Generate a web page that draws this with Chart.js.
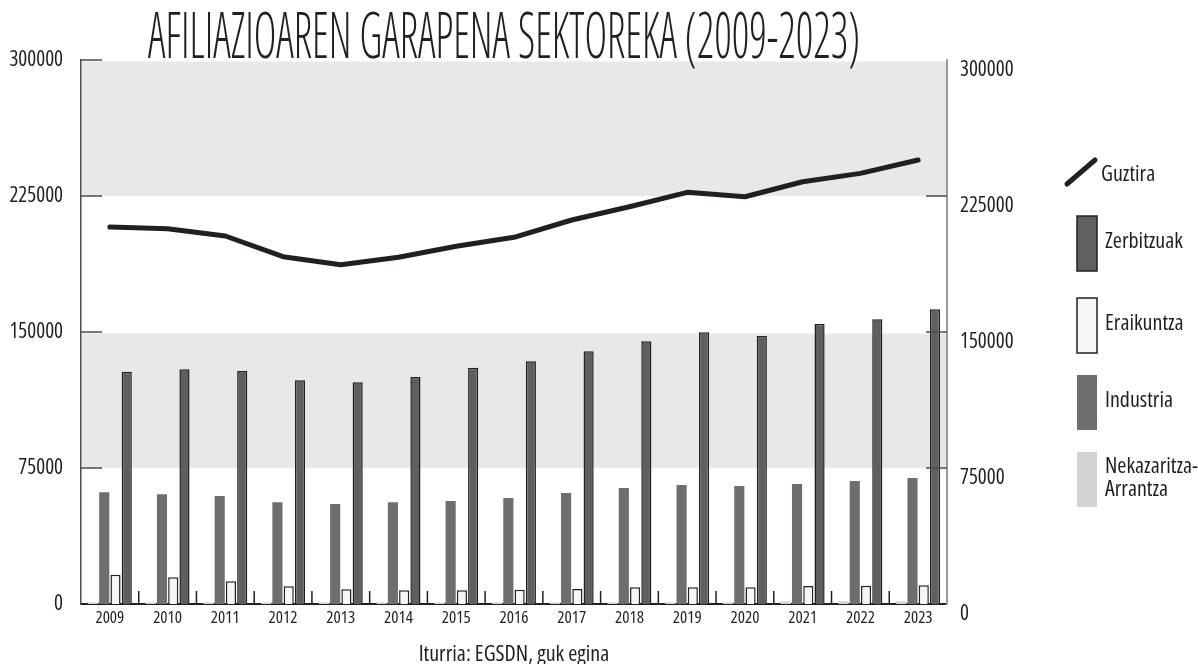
<!DOCTYPE html>
<html>
<head>
<meta charset="utf-8">
<script src="https://cdn.jsdelivr.net/npm/chart.js@4.4.1/dist/chart.umd.min.js"></script>
<style>
html, body { margin: 0; padding: 0; background: #fff; }
</style>
</head>
<body>
<canvas id="grafikoa" width="1198" height="664"></canvas>
<script>
// datuak
const urteak = ['2009', '2010', '2011', '2012', '2013', '2014', '2015', '2016', '2017', '2018', '2019', '2020', '2021', '2022', '2023']
const guztira = [207900, 206970, 202940, 191530, 187110, 191180, 197300, 202220, 211760, 219100, 227040, 224610, 232880, 237480, 244850]
const zerbitzuak = [128110, 129400, 128490, 123350, 122250, 125180, 130330, 133840, 139350, 144870, 149830, 147790, 154410, 157000, 162520]
const eraikuntza = [16160, 14710, 12500, 9740, 8090, 7540, 7540, 7900, 8270, 9190, 9190, 9190, 9930, 10110, 10290]
const industria = [61600, 60490, 59560, 56070, 55150, 56070, 56800, 58460, 61210, 63970, 65630, 65070, 66180, 67830, 69490]
const nekazaritza = [900, 900, 900, 900, 900, 900, 900, 900, 900, 900, 900, 900, 1500, 1500, 1500]

const yMax = 300000
const yPausoa = 75000

const izenburua = 'AFILIAZIOAREN GARAPENA SEKTOREKA (2009-2023)'
const iturria = 'Iturria: EGSDN, guk egina'

// Open Sans estu (condensed) bertsioa
const letra = '"Open Sans", "Liberation Sans", sans-serif'
const estua = 'condensed'
const beltza = '#231f20'

/* atzeko banda grisak */
const bandak = {
    id: 'bandak',
    beforeDatasetsDraw(chart) {
        const ctx = chart.ctx, a = chart.chartArea, y = chart.scales.y
        ctx.save()
        ctx.fillStyle = '#e8e8e8'
        ;[[75000, 150000], [225000, 300000]].forEach(([be, go]) => {
            const t = y.getPixelForValue(go), b = y.getPixelForValue(be)
            ctx.fillRect(a.left + 1, t + 1.5, a.right - a.left - 2, b - t - 1.5)
        })
        ctx.restore()
    }
}

/* barruko marrak eta urteen arteko bereizleak */
const marrak = {
    id: 'marrak',
    afterDatasetsDraw(chart) {
        const ctx = chart.ctx, a = chart.chartArea, y = chart.scales.y, x = chart.scales.x
        const lerroa = (x1, y1, x2, y2) => { ctx.beginPath(); ctx.moveTo(x1, y1); ctx.lineTo(x2, y2); ctx.stroke() }
        ctx.save()
        ctx.strokeStyle = '#4d4d4f'
        ctx.lineWidth = 1.5
        y.ticks.forEach(t => {
            if (t.value <= 0) return
            const py = y.getPixelForValue(t.value)
            lerroa(a.left, py, a.left + 21, py)
            if (t.value < yMax) lerroa(a.right - 21, py, a.right, py)
        })
        ctx.strokeStyle = beltza
        for (let i = 1; i < urteak.length; i++) {
            const px = (x.getPixelForValue(i - 1) + x.getPixelForValue(i)) / 2
            lerroa(px, a.bottom - 13, px, a.bottom)
        }
        ctx.restore()
    }
}

/* izenburua eta legenda */
const testuak = {
    id: 'testuak',
    afterDraw(chart) {
        const ctx = chart.ctx
        ctx.save()
        ctx.fillStyle = beltza
        ctx.font = '300 ' + estua + ' 64px ' + letra
        ctx.textAlign = 'center'
        ctx.textBaseline = 'alphabetic'
        const w = ctx.measureText(izenburua).width
        ctx.translate(504, 58)
        ctx.scale(712 / w, 1)
        ctx.fillText(izenburua, 0, 0)
        ctx.restore()

        // legenda
        ctx.save()
        ctx.font = estua + ' 22px ' + letra
        ctx.textAlign = 'left'
        ctx.textBaseline = 'middle'
        ctx.fillStyle = beltza
        ctx.strokeStyle = beltza
        ctx.lineWidth = 5
        ctx.lineCap = 'round'
        ctx.beginPath(); ctx.moveTo(1067, 184); ctx.lineTo(1095, 160); ctx.stroke()
        ctx.fillText(chart.data.datasets[0].label, 1101, 175)

        const laukiak = chart.data.datasets.slice(1).reverse()
        const ys = [216, 298, 375, 452]
        laukiak.forEach((ds, i) => {
            const top = ys[i]
            ctx.fillStyle = ds.backgroundColor
            ctx.fillRect(1077, top, 20, 55)
            if (ds.borderWidth) {
                ctx.lineWidth = 1.5
                ctx.strokeStyle = ds.borderColor
                ctx.strokeRect(1077, top, 20, 55)
            }
            ctx.fillStyle = beltza
            const zatiak = ds.label.split('\n')
            zatiak.forEach((z, k) => {
                ctx.fillText(z, 1105, top + 26 + (k - (zatiak.length - 1) / 2) * 23)
            })
        })
        ctx.restore()
    }
}

const data = {
    labels: urteak,
    datasets: [
        {
            type: 'line',
            label: 'Guztira',
            data: guztira,
            borderColor: beltza,
            backgroundColor: beltza,
            borderWidth: 5,
            borderCapStyle: 'round',
            borderJoinStyle: 'round',
            pointRadius: 0,
            tension: 0,
            order: 0
        },
        {
            label: 'Nekazaritza-\nArrantza',
            data: nekazaritza,
            backgroundColor: '#d1d3d4',
            borderWidth: 0,
            order: 1
        },
        {
            label: 'Industria',
            data: industria,
            backgroundColor: '#6d6e71',
            borderWidth: 0,
            order: 1
        },
        {
            label: 'Eraikuntza',
            data: eraikuntza,
            backgroundColor: '#f6f6f6',
            borderColor: beltza,
            borderWidth: 1.5,
            order: 1
        },
        {
            label: 'Zerbitzuak',
            data: zerbitzuak,
            backgroundColor: '#5f5f61',
            borderColor: beltza,
            borderWidth: 1.5,
            order: 1
        }
    ]
}

const config = {
    type: 'bar',
    data: data,
    plugins: [bandak, marrak, testuak],
    options: {
        responsive: false,
        animation: false,
        layout: { padding: { top: 60, left: 0, right: 0, bottom: 0 } },
        datasets: {
            bar: { categoryPercentage: 0.78, barPercentage: 0.9 }
        },
        plugins: {
            legend: { display: false },
            tooltip: { enabled: false },
            title: { display: false }
        },
        scales: {
            x: {
                offset: true,
                grid: { display: false, drawTicks: false },
                border: { display: true, color: beltza, width: 2 },
                ticks: { color: beltza, font: { family: letra, weight: estua, size: 17 }, padding: 4, maxRotation: 0 },
                title: {
                    display: true,
                    text: iturria,
                    color: beltza,
                    font: { family: letra, weight: estua, size: 22, lineHeight: 0.8 },
                    padding: { top: 4, bottom: 0 }
                },
                afterFit: s => { s.height = 60 }
            },
            y: {
                position: 'left',
                min: 0,
                max: yMax,
                grid: { display: false, drawTicks: false },
                border: { display: true, color: '#4d4d4f', width: 1.5 },
                ticks: {
                    stepSize: yPausoa,
                    color: beltza,
                    font: { family: letra, weight: estua, size: 21 },
                    padding: 18,
                    callback: v => String(v)
                },
                afterFit: s => { s.width = 81 }
            },
            y2: {
                position: 'right',
                min: 0,
                max: yMax,
                grid: { display: false, drawTicks: false },
                border: { display: true, color: '#9a9a9c', width: 2 },
                ticks: {
                    stepSize: yPausoa,
                    color: beltza,
                    font: { family: letra, weight: estua, size: 21 },
                    padding: 13,
                    labelOffset: 10,
                    callback: v => String(v)
                },
                afterFit: s => { s.width = 251 }
            }
        }
    }
}

let grafikoa = new Chart(document.getElementById('grafikoa').getContext('2d'), config)
</script>
</body>
</html>
